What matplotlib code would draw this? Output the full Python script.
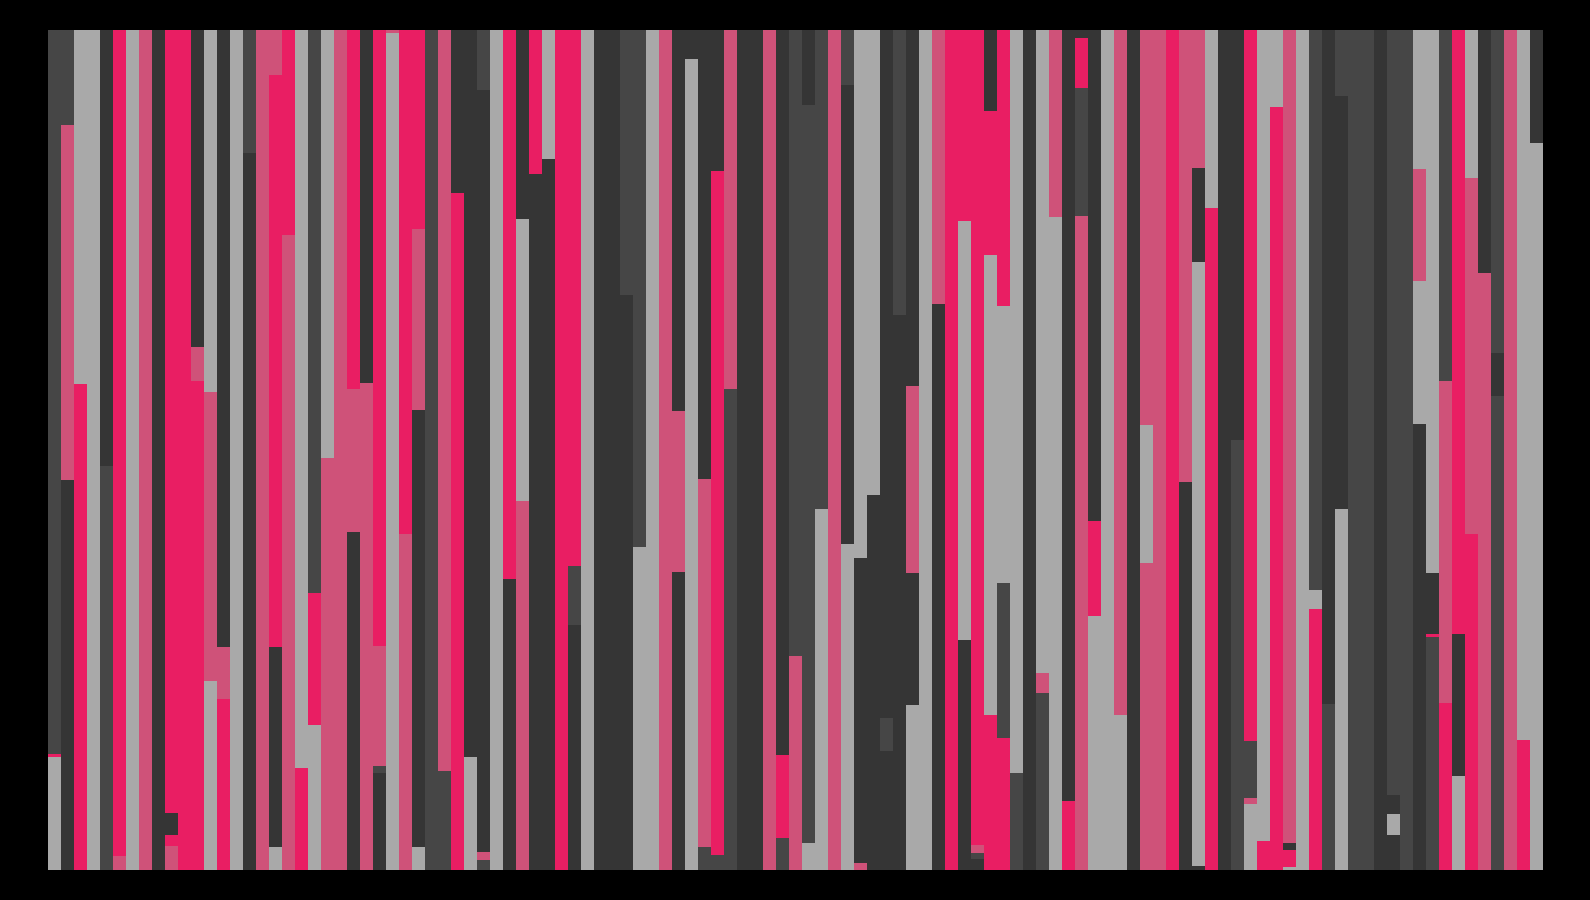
import numpy as np
import matplotlib
matplotlib.use("Agg")
import matplotlib.pyplot as plt

# colour codes used in the stacks
palette = {
    "A": "#353535",  # dark grey
    "B": "#464646",  # mid grey
    "C": "#a9a9a9",  # light grey
    "P": "#e91e63",  # pink
    "M": "#cf5279",  # muted pink
}

# each column: colours bottom -> top, and the boundaries between them (0-100 scale)
stack_colors = [
    "CPB", "AMB", "PC", "C", "BA", "MP", "C", "M", "A", "MPAP",
    "P", "PMA", "CMC", "PMA", "C", "AB", "M", "CAPM", "MP", "PC",
    "CPB", "MC", "M", "AMP", "MA", "ABMP", "CM", "MP", "CAMP", "B",
    "BM", "PA", "CA", "BMAB", "C", "AP", "MCA", "AP", "AC", "P",
    "ABP", "C", "A", "A", "AB", "CB", "C", "M", "AMA", "CA",
    "BMA", "BPA", "BM", "A", "A", "M", "BPA", "MB", "CBA", "CB",
    "M", "CAB", "MAC", "AC", "ABA", "AB", "CAMA", "C", "AM", "P",
    "ACP", "ABMP", "PCPA", "PBCP", "BC", "A", "BMC", "CM", "PA", "MBPA",
    "CPA", "C", "CM", "A", "MCM", "M", "P", "AM", "ACAM", "PC",
    "A", "BA", "CMBP", "PC", "PC", "CPAM", "C", "PCB", "BA", "CAB",
    "B", "B", "A", "ACAB", "B", "ACMC", "BPAC", "PMB", "CAP", "PMC",
    "MA", "BAB", "M", "PC", "CA",
]

stack_breaks = [
    [13.5, 13.8], [46.4, 88.7], [57.9], [], [48.15], [1.7], [], [], [], [2.87, 4.2, 6.82],
    [], [58.2, 62.3], [22.5, 56.95], [20.4, 26.6], [], [85.3], [], [2.75, 26.6, 94.7], [75.6], [12.2],
    [17.3, 33.0], [49.1], [], [40.2, 57.3], [58.0], [11.6, 12.4, 26.7], [99.7], [40.05], [2.75, 54.8, 76.3], [],
    [11.8], [80.6], [13.4], [1.2, 2.15, 92.8], [], [34.7], [43.9, 77.5], [82.8], [84.7], [],
    [29.2, 36.2], [], [], [], [68.5], [38.4], [], [], [35.5, 54.6], [96.6],
    [2.75, 46.6], [1.8, 83.2], [57.3], [], [], [], [3.8, 13.7], [25.5], [3.2, 91.1], [43.0],
    [], [38.8, 93.5], [0.85, 37.2], [44.6], [14.2, 18.1], [66.1], [19.6, 35.4, 57.65], [], [67.4], [],
    [27.4, 77.3], [1.35, 2.0, 3.0], [18.5, 73.2, 90.3], [15.75, 34.2, 67.2], [11.5], [], [21.1, 23.5], [77.7], [8.2], [77.8, 93.1, 99.1],
    [30.2, 41.6], [], [18.4], [], [36.6, 53.0], [], [], [46.2], [0.5, 72.4, 83.6], [78.8],
    [], [51.2], [7.9, 8.6, 15.4], [3.4], [90.8], [0.36, 2.4, 3.25], [], [31.1, 33.35], [19.8], [43.0, 92.1],
    [], [], [], [4.2, 6.7, 8.95], [], [53.1, 70.1, 83.5], [27.7, 28.1, 35.4], [19.9, 58.2], [11.2, 28.1], [40.05, 82.4],
    [71.1], [56.4, 61.6], [], [15.5], [86.6],
]

fig = plt.figure(figsize=(15.9, 9), dpi=100, facecolor="black")
ax = fig.add_axes([48 / 1590, 30 / 900, 1495 / 1590, 840 / 900])
ax.set_facecolor("black")

for i, (codes, breaks) in enumerate(zip(stack_colors, stack_breaks)):
    edges = np.array([0.0] + breaks + [100.0])
    heights = np.diff(edges)
    for code, bottom, h in zip(codes, edges[:-1], heights):
        ax.bar(i, h, bottom=bottom, width=1.0, color=palette[code],
               linewidth=0, antialiased=False)

ax.set_xlim(-0.5, len(stack_colors) - 0.5)
ax.set_ylim(0, 100)
ax.axis("off")

fig.savefig("out.png", facecolor="black")
plt.close(fig)
